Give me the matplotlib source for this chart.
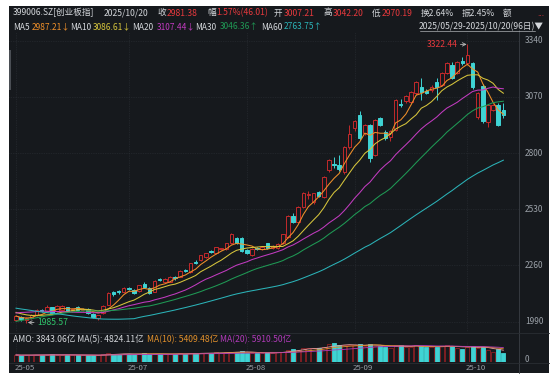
#=======================================================
#	K-line chart of 399006.SZ (ChiNext) with MA and amount
#========================================================
import numpy as np
import pandas as pd
import matplotlib
matplotlib.use('Agg')
import matplotlib.pyplot as plt
from matplotlib.patches import Rectangle
from matplotlib.lines import Line2D

plt.rcParams['font.family'] = ['Noto Sans CJK SC', 'DejaVu Sans']

#=====================
#===== Data
#=====================
# closes before 2025/05/29, only used to start the moving averages
hist_close = [2230, 2215, 2245, 2270, 2255, 2240, 2205, 2230, 2245, 2260,
              2255, 2235, 2210, 2195, 2180, 2170, 2150, 2160, 2135, 2130,
              2110, 2095, 2070,
              1800, 1850, 1865, 1880, 1870, 1885, 1890, 1875, 1880, 1895,
              1905, 1910, 1925, 1930, 1915, 1940, 1935, 1950,
              1985, 1995, 2010, 2000, 2060, 2075, 2060, 2080, 2070, 2065,
              2060, 2050, 2045, 2035, 2040, 2020, 2010, 2000]

# 2025/05/29 -> 2025/10/20 (96 days)
opens = [1998, 2012, 1998, 2008, 2022, 2046, 2042, 2058, 2040, 2048,
         2058, 2042, 2060, 2046, 2050, 2028, 2005, 2030, 2072, 2130,
         2136, 2130, 2152, 2142, 2137, 2170, 2151, 2132, 2194, 2182,
         2182, 2203, 2206, 2238, 2226, 2278, 2285, 2300, 2327, 2320,
         2338, 2340, 2366, 2392, 2390, 2335, 2310, 2342, 2340, 2366,
         2345, 2343, 2368, 2396, 2497, 2468, 2540, 2598, 2564, 2612,
         2588, 2718, 2747, 2745, 2708, 2828, 2920, 2983, 2896, 2935,
         2790, 2968, 2900, 2878, 2910, 3035, 3050, 3045, 3088, 3118,
         3098, 3103, 3140, 3128, 3185, 3225, 3185, 3245, 3233, 3233,
         2975, 3122, 2950, 3008, 3030, 3007.21]
highs = [2022, 2016, 2012, 2025, 2052, 2052, 2070, 2062, 2068, 2072,
         2062, 2056, 2064, 2053, 2054, 2030, 2024, 2068, 2132, 2138,
         2140, 2158, 2158, 2146, 2168, 2180, 2156, 2188, 2200, 2200,
         2208, 2208, 2238, 2245, 2272, 2286, 2312, 2322, 2332, 2348,
         2344, 2368, 2414, 2398, 2395, 2340, 2342, 2348, 2354, 2370,
         2356, 2366, 2412, 2500, 2510, 2544, 2612, 2620, 2610, 2618,
         2690, 2770, 2780, 2790, 2832, 2935, 2960, 3000, 2940, 2940,
         2962, 2975, 2910, 2912, 3060, 3060, 3080, 3098, 3145, 3160,
         3106, 3125, 3160, 3190, 3238, 3240, 3245, 3262, 3322.44, 3240,
         3092, 3130, 3035, 3035, 3040, 3042.20]
lows = [1992, 1995, 1985.57, 2004, 2018, 2035, 2040, 2028, 2036, 2045,
        2035, 2038, 2042, 2040, 2028, 2005, 1998, 2026, 2068, 2115,
        2125, 2126, 2140, 2122, 2132, 2150, 2124, 2130, 2186, 2178,
        2178, 2192, 2204, 2228, 2224, 2266, 2282, 2296, 2318, 2316,
        2332, 2336, 2362, 2362, 2326, 2316, 2306, 2334, 2336, 2340,
        2338, 2340, 2364, 2392, 2462, 2462, 2536, 2580, 2556, 2588,
        2584, 2710, 2730, 2712, 2700, 2822, 2905, 2865, 2885, 2755,
        2785, 2928, 2865, 2860, 2905, 3020, 3040, 3040, 3080, 3055,
        3085, 3095, 3055, 3122, 3180, 3155, 3180, 3222, 3225, 3110,
        2965, 2945, 2925, 3000, 2930, 2970.19]
closes = [2015, 2002, 2008, 2020, 2048, 2040, 2060, 2032, 2064, 2066,
          2040, 2052, 2047, 2049, 2032, 2012, 2020, 2064, 2128, 2122,
          2130, 2152, 2146, 2127, 2166, 2158, 2127, 2185, 2190, 2197,
          2206, 2198, 2235, 2233, 2270, 2273, 2310, 2320, 2323, 2347,
          2342, 2366, 2410, 2366, 2330, 2320, 2340, 2338, 2350, 2343,
          2352, 2362, 2410, 2497, 2468, 2540, 2607, 2602, 2607, 2593,
          2684, 2766, 2744, 2723, 2828, 2891, 2954, 2872, 2935, 2776,
          2959, 2935, 2872, 2905, 3055, 3030, 3075, 3093, 3140, 3093,
          3090, 3118, 3118, 3185, 3233, 3160, 3237, 3235, 3270, 3118,
          3088, 2954, 3030, 3030, 2935.37, 2981.38]
# turnover (100 million yuan)
amount = [2900, 2700, 2850, 2800, 3000, 2900, 2950, 3100, 2850, 2900,
          3000, 2800, 2750, 2700, 2750, 2800, 2700, 3100, 3500, 3400,
          3300, 3350,
          3300, 3200, 3400, 3500, 3100, 3300, 3400, 3200, 3300, 3250,
          3500, 3400, 3600, 3500, 3700, 3800, 3600, 3900, 3700, 4000,
          4300, 4200, 4400,
          3800, 3700, 3600, 3700, 3900, 3800, 4000, 4200, 4900, 5200,
          5100, 5600, 5900, 5700, 5800, 6200, 7200, 7600, 6800, 7000,
          6900,
          6800, 7300, 6400, 7500, 6700, 6500, 6100, 5800, 7000, 6900,
          6000, 6200, 6900, 6500, 6300, 6100, 6000, 6400, 7015, 6700,
          5600, 5500,
          6300, 6672, 5900, 6000, 4800, 4300, 5180, 3843.06]

month_pos = [0, 22, 45, 66, 88]
month_lab = ['25-05', '25-07', '25-08', '25-09', '25-10']
price_ticks = [1990, 2260, 2530, 2800, 3070, 3340]

ma_len = [5, 10, 20, 30, 60]
ma_col = ['#f0902a', '#d6c53c', '#c23bc0', '#1f9a55', '#2bb3b8']

#=====================
#===== Moving averages
#=====================
nh = len(hist_close)
allc = pd.Series(hist_close + closes)
MA = {}
for n in ma_len:
    MA[n] = allc.rolling(n, min_periods=1).mean().values[nh:]
amt = pd.Series(amount)
vma5 = amt.rolling(5, min_periods=1).mean().values
vma10 = amt.rolling(10, min_periods=1).mean().values
vma20 = amt.rolling(20, min_periods=1).mean().values

#=====================
#===== Plot
#=====================
W, H = 550, 378
DPI = 100
dark = '#16191d'
up_col = '#c32a2c'
dn_col = '#3fd3d4'
grid_col = '#2c3036'
lab_col = '#9ba1a8'
red_txt = '#e8393d'
white_txt = '#d4d7db'

def fr(x0, y0, x1, y1):
    # pixel box (top-left origin) -> figure fraction
    return [x0 / W, 1 - y1 / H, (x1 - x0) / W, (y1 - y0) / H]

fig = plt.figure(figsize=(W / DPI, H / DPI), dpi=DPI)
fig.patch.set_facecolor('white')
fig.add_artist(Rectangle((9 / W, 1 - 373 / H), 540 / W, 367 / H,
                         transform=fig.transFigure, facecolor=dark,
                         edgecolor='none', zorder=-10))
fig.add_artist(Rectangle((9 / W, 1 - 90 / H), 2 / W, 40 / H,
                         transform=fig.transFigure, facecolor='#4a4e54',
                         edgecolor='none', zorder=-9))

x0px, x1px = 9, 519
xl = ((x0px - 16) / 5.13, (x1px - 16) / 5.13)

#----- price panel
ax = fig.add_axes(fr(x0px, 32, x1px, 332))
ax.set_facecolor('none')
ax.set_xlim(xl)
ax.set_ylim(1940, 3382)
for s in ax.spines.values():
    s.set_visible(False)
ax.set_xticks([])
ax.set_yticks([])

for p in price_ticks:
    ax.axhline(p, color=grid_col, lw=0.5, ls=(0, (1, 1.5)), zorder=0)
    ax.text(1.012, p, str(p), transform=ax.get_yaxis_transform(), ha='left',
            va='center', fontsize=6, color=lab_col, clip_on=False)
for m in month_pos:
    ax.axvline(m, color=grid_col, lw=0.5, ls=(0, (1, 1.5)), zorder=0)

for i in range(len(closes)):
    o, h, l, c = opens[i], highs[i], lows[i], closes[i]
    up = c >= o
    col = up_col if up else dn_col
    ax.vlines(i, l, h, color=col, lw=0.7, zorder=2)
    body = max(abs(c - o), 2.0)
    ax.add_patch(Rectangle((i - 0.34, min(o, c)), 0.68, body,
                           facecolor=dark if up else dn_col, edgecolor=col,
                           lw=0.7, zorder=3))

xs = np.arange(len(closes))
for n, cl in zip(ma_len, ma_col):
    ax.plot(xs, MA[n], color=cl, lw=0.75, zorder=4)

ih = int(np.argmax(highs))
ax.annotate('%.2f' % highs[ih], xy=(ih - 0.15, highs[ih]), xytext=(-9, 0),
            textcoords='offset pixels', ha='right', va='center', fontsize=6.2,
            color=red_txt, arrowprops=dict(arrowstyle='->', color='#b8b8b8',
                                           lw=0.6, shrinkA=0, shrinkB=0))
il = int(np.argmin(lows))
ax.annotate('%.2f' % lows[il], xy=(il + 0.3, lows[il]), xytext=(9, 0),
            textcoords='offset pixels', ha='left', va='center', fontsize=6.2,
            color='#2fc46a', arrowprops=dict(arrowstyle='->', color='#b8b8b8',
                                             lw=0.6, shrinkA=0, shrinkB=0))

#----- amount panel
axv = fig.add_axes(fr(x0px, 342, x1px, 362))
axv.set_facecolor('none')
axv.set_xlim(xl)
axv.set_ylim(0, 8200)
for s in axv.spines.values():
    s.set_visible(False)
axv.set_xticks([])
axv.set_yticks([])
for m in month_pos:
    axv.axvline(m, color=grid_col, lw=0.5, ls=(0, (1, 1.5)), zorder=0)
fc = [dark if closes[i] >= opens[i] else dn_col for i in range(len(closes))]
ec = ['#8e2024' if closes[i] >= opens[i] else dn_col for i in range(len(closes))]
axv.bar(xs, amount, width=0.8, color=fc, edgecolor=ec, lw=0.6, zorder=2)
axv.plot(xs, vma5, color='#e8a0a0', lw=0.6, zorder=3)
axv.plot(xs, vma10, color='#e0902c', lw=0.6, zorder=3)
axv.plot(xs, vma20, color='#b03ab8', lw=0.6, zorder=3)
axv.text(1.012, 0.12, '0', transform=axv.transAxes, ha='left', va='center',
         fontsize=6, color=lab_col)

# month labels
for m, lab in zip(month_pos, month_lab):
    axv.text(m - 0.3, -0.3, lab, transform=axv.get_xaxis_transform(),
             ha='left', va='center', fontsize=5.6, color=lab_col)

# frame lines
fig.add_artist(Line2D([x1px / W, x1px / W], [1 - 30 / H, 1 - 373 / H],
                      transform=fig.transFigure, color='#3a3f45', lw=0.6))
fig.add_artist(Line2D([9 / W, 549 / W], [1 - 333 / H, 1 - 333 / H],
                      transform=fig.transFigure, color='#2a2e33', lw=0.6))
fig.add_artist(Line2D([9 / W, 549 / W], [1 - 363 / H, 1 - 363 / H],
                      transform=fig.transFigure, color='#2a2e33', lw=0.6))

#=====================
#===== Header texts
#=====================
def txt(x, y, s, c=white_txt, fs=6.2, **kw):
    fig.text(x / W, 1 - y / H, s, color=c, fontsize=fs, ha='left', va='center', **kw)

y1 = 13
txt(13, y1, '399006.SZ[创业板指]')
txt(104, y1, '2025/10/20')
txt(157, y1, '收')
txt(167, y1, '2981.38', red_txt)
txt(207, y1, '幅')
txt(216, y1, '1.57%(46.01)', red_txt)
txt(274, y1, '开')
txt(284, y1, '3007.21', red_txt)
txt(323, y1, '高')
txt(333, y1, '3042.20', red_txt)
txt(372, y1, '低')
txt(382, y1, '2970.19', red_txt)
txt(421, y1, '换2.64%')
txt(462, y1, '振2.45%')
txt(503, y1, '额')
txt(537, y1, '...', red_txt)

y2 = 27
fs2 = 6.0
txt(13, y2, 'MA5', fs=fs2)
txt(32, y2, '2987.21↓', ma_col[0], fs=fs2)
txt(70, y2, 'MA10', fs=fs2)
txt(93, y2, '3086.61↓', ma_col[1], fs=fs2)
txt(132, y2, 'MA20', fs=fs2)
txt(157, y2, '3107.44↓', ma_col[2], fs=fs2)
txt(195, y2, 'MA30', fs=fs2)
txt(220, y2, '3046.36↑', ma_col[3], fs=fs2)
txt(261, y2, 'MA60', fs=fs2)
txt(284, y2, '2763.75↑', ma_col[4], fs=fs2)
fig.text(544 / W, 1 - y2 / H, '2025/05/29-2025/10/20(96日)▼', color=white_txt,
         fontsize=6.2, ha='right', va='center')
fig.add_artist(Line2D([420 / W, 535 / W], [1 - 31 / H, 1 - 31 / H],
                      transform=fig.transFigure, color=white_txt, lw=0.4))

y3 = 340
txt(13, y3, 'AMO: 3843.06亿 MA(5): 4824.11亿')
txt(147, y3, 'MA(10): 5409.48亿', '#e0902c')
txt(220, y3, 'MA(20): 5910.50亿', '#b03ab8')

plt.savefig('out.png', dpi=DPI, facecolor=fig.get_facecolor())
print('Saving: out.png')
